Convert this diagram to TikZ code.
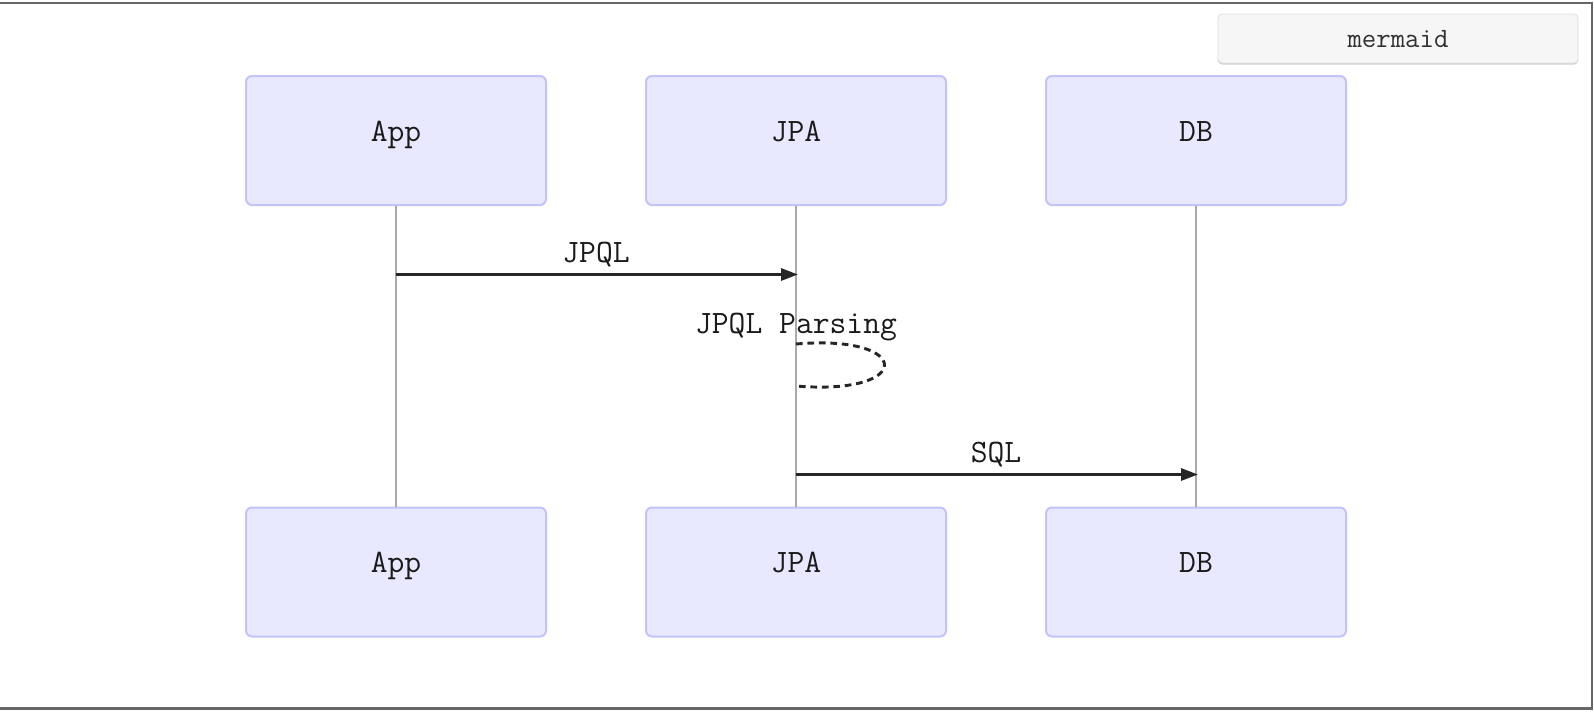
\documentclass[tikz,border=0pt]{standalone}
\usepackage{fontspec}
\usetikzlibrary{arrows.meta,shadows}
\definecolor{actfill}{HTML}{E8E8FF}
\definecolor{actline}{HTML}{C3C3F9}
\definecolor{lifegray}{HTML}{AAAAAA}
\definecolor{msgcol}{HTML}{262626}
\definecolor{bordercol}{HTML}{666666}
\definecolor{btnfill}{HTML}{F6F6F6}
\definecolor{btnline}{HTML}{DDDDDD}
\definecolor{txtcol}{HTML}{1A1A1A}
\tikzset{
  actor/.style={draw=actline, fill=actfill, line width=1.5pt, rounded corners=4.5pt,
    minimum width=225pt, minimum height=96.75pt, inner sep=0pt},
  atext/.style={font=\ttfamily\fontsize{24.5}{28}\selectfont, text=txtcol, inner sep=0pt, anchor=base},
  mtext/.style={font=\ttfamily\fontsize{24.5}{28}\selectfont, text=txtcol, inner sep=0pt, anchor=base},
  life/.style={draw=lifegray, line width=1.1pt},
  msg/.style={draw=msgcol, line width=2.2pt, -{Triangle[length=12.75pt, width=9pt]}},
  loopdash/.style={draw=msgcol, line width=2.2pt, dash pattern=on 5pt off 3.6pt},
  btn/.style={draw=btnline, fill=btnfill, line width=0.6pt, rounded corners=3pt,
    minimum width=270pt, minimum height=36.75pt, inner sep=0pt,
    drop shadow={opacity=0.35, shadow xshift=0pt, shadow yshift=-1.2pt}},
  btntext/.style={font=\ttfamily\fontsize{21}{25}\selectfont, text=txtcol!90, inner sep=0pt, anchor=base},
  frame/.style={draw=bordercol, line width=1.8pt}
}
\begin{document}
\begin{tikzpicture}[x=0.75pt,y=-0.75pt]
\useasboundingbox (0,0) rectangle (1594,714);
\draw[frame] (0,3) -- (1592,3) -- (1592,708.5) -- (0,708.5);

% button
\node[btn] (btn) at (1398,38.5) {};
\node[btntext] (btnt) at (1398,47) {mermaid};

% actors top
\node[actor] (appT) at (396,140.5) {};
\node[actor] (jpaT) at (796,140.5) {};
\node[actor] (dbT) at (1196,140.5) {};
\node[atext] (appTl) at (396,141) {App};
\node[atext] (jpaTl) at (796,141) {JPA};
\node[atext] (dbTl) at (1196,141) {DB};

% actors bottom
\node[actor] (appB) at (396,572) {};
\node[actor] (jpaB) at (796,572) {};
\node[actor] (dbB) at (1196,572) {};
\node[atext] (appBl) at (396,572.5) {App};
\node[atext] (jpaBl) at (796,572.5) {JPA};
\node[atext] (dbBl) at (1196,572.5) {DB};

% lifelines
\draw[life] (appT.south) -- (appB.north);
\draw[life] (jpaT.south) -- (jpaB.north);
\draw[life] (dbT.south) -- (dbB.north);

% messages
\coordinate (m1a) at (396,274.5);
\coordinate (m1b) at (798,274.5);
\draw[msg] (m1a) -- (m1b);
\node[mtext] (m1l) at (596,262) {JPQL};

\coordinate (s1) at (796,344);
\coordinate (s2) at (796,386);
\draw[loopdash] (s1) .. controls (914,334) and (914,396) .. (s2);
\node[mtext] (s1l) at (796,333) {JPQL Parsing};

\coordinate (m2a) at (796,474.5);
\coordinate (m2b) at (1198,474.5);
\draw[msg] (m2a) -- (m2b);
\node[mtext] (m2l) at (996,462) {SQL};
\end{tikzpicture}
\end{document}
